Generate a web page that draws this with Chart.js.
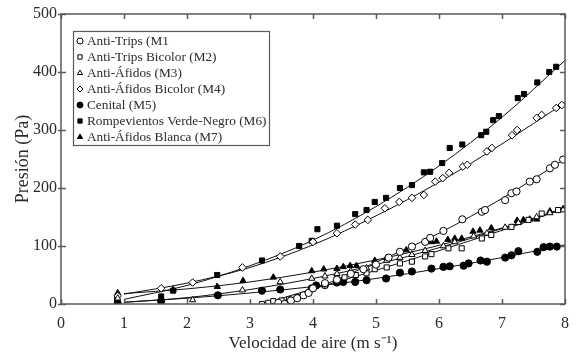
<!DOCTYPE html>
<html>
<head>
<meta charset="utf-8">
<script src="https://cdn.jsdelivr.net/npm/chart.js@4"></script>
<style>
  html, body { margin: 0; padding: 0; background: #fff; }
</style>
</head>
<body>
<canvas id="graficoPresion" width="584" height="354"></canvas>
<script>
// Presión vs velocidad de aire, mallas M1..M7
const xTicks = [0, 1, 2, 3, 4, 5, 6, 7, 8];
const yTicks = [0, 100, 200, 300, 400, 500];

const nombres = [
  'Anti-Trips (M1',
  'Anti-Trips Bicolor (M2)',
  'Anti-Áfidos (M3)',
  'Anti-Áfidos Bicolor (M4)',
  'Cenital (M5)',
  'Rompevientos Verde-Negro (M6)',
  'Anti-Áfidos Blanca (M7)',
];

// puntos medidos
const m1X = [3.45, 3.55, 3.65, 3.75, 3.85, 3.93, 4.0, 4.19, 4.38, 4.6, 4.8, 5.0, 5.2, 5.38, 5.57, 5.78, 5.86, 6.07, 6.37, 6.68, 6.73, 7.05, 7.15, 7.23, 7.44, 7.55, 7.76, 7.84, 7.97];
const m1Y = [2, 0, 6, 10, 15, 19, 27, 36, 42, 52, 60, 68, 80, 90, 99, 107, 114, 126, 146, 159, 162, 179, 191, 194, 211, 215, 234, 240, 249];

const m2X = [3.19, 3.29, 3.37, 3.5, 3.62, 3.75, 3.98, 4.19, 4.38, 4.5, 4.68, 4.85, 4.98, 5.17, 5.38, 5.57, 5.78, 5.88, 6.15, 6.36, 6.68, 6.83, 7.15, 7.42, 7.63, 7.89];
const m2Y = [0, 2, 5, 6, 8, 12, 27, 32, 42, 46, 50, 53, 60, 63, 70, 73, 82, 86, 96, 96, 113, 119, 133, 145, 156, 162];

const m3X = [0.9, 2.09, 2.88, 3.48, 3.98, 4.19, 4.38, 4.6, 4.85, 5.0, 5.17, 5.38, 5.57, 5.78, 6.07, 6.25, 6.55, 6.76, 7.05, 7.26, 7.55, 7.76, 7.97];
const m3Y = [10, 7, 24, 38, 44, 48, 52, 57, 62, 68, 75, 80, 85, 92, 100, 107, 117, 122, 132, 140, 150, 157, 162];

const m4X = [0.9, 1.59, 2.09, 2.88, 3.48, 4.0, 4.38, 4.67, 4.87, 5.14, 5.37, 5.57, 5.76, 5.94, 6.06, 6.16, 6.38, 6.45, 6.76, 6.84, 7.16, 7.24, 7.55, 7.63, 7.86, 7.95];
const m4Y = [14, 27, 37, 63, 82, 107, 122, 137, 145, 165, 176, 183, 188, 211, 217, 226, 237, 240, 263, 269, 291, 300, 321, 326, 338, 343];

const m5X = [0.9, 1.59, 2.49, 3.19, 3.48, 3.98, 4.05, 4.19, 4.38, 4.48, 4.67, 4.85, 5.16, 5.38, 5.57, 5.88, 6.07, 6.17, 6.39, 6.47, 6.66, 6.76, 7.05, 7.15, 7.26, 7.56, 7.66, 7.76, 7.87];
const m5Y = [1, 5, 15, 23, 25, 27, 32, 33, 37, 38, 38, 41, 44, 54, 56, 61, 64, 65, 66, 70, 75, 73, 80, 84, 91, 90, 98, 99, 99];

const m6X = [0.89, 1.59, 1.78, 2.48, 3.19, 3.78, 3.98, 4.07, 4.38, 4.67, 4.85, 4.98, 5.16, 5.38, 5.57, 5.76, 5.86, 6.05, 6.17, 6.37, 6.67, 6.75, 6.86, 6.95, 7.25, 7.35, 7.56, 7.75, 7.86];
const m6Y = [7, 13, 23, 50, 75, 100, 109, 129, 135, 155, 162, 176, 183, 200, 205, 227, 228, 243, 269, 275, 291, 297, 317, 324, 355, 362, 382, 400, 409];

const m7X = [0.9, 1.78, 2.48, 2.89, 3.37, 3.98, 4.17, 4.38, 4.48, 4.59, 4.69, 4.98, 5.17, 5.48, 5.88, 5.96, 6.14, 6.25, 6.36, 6.54, 6.65, 6.83, 7.24, 7.34, 7.44, 7.55, 7.76, 7.97];
const m7Y = [19, 25, 30, 40, 46, 57, 60, 61, 64, 66, 66, 75, 80, 93, 107, 108, 111, 113, 113, 125, 127, 131, 144, 145, 146, 146, 160, 164];

// curvas de ajuste
const ajusteX = [1, 2, 3, 4, 5, 6, 7, 8];
const ajusteM1X = [3.4, 4, 5, 6, 7, 8];
const ajusteM1Y = [0, 25, 72, 122, 182, 250];
const ajusteM2X = [3.2, 4, 5, 6, 7, 8];
const ajusteM2Y = [0, 26, 58, 92, 127, 165];
const ajusteM3Y = [3, 11, 25, 44, 68, 97, 130, 166];
const ajusteM4Y = [17, 36, 63, 102, 152, 210, 276, 347];
const ajusteM5Y = [3, 10, 19, 30, 44, 61, 80, 102];
const ajusteM6Y = [8, 32, 66, 110, 168, 238, 322, 420];
const ajusteM7Y = [18, 26, 38, 55, 76, 101, 131, 164];

const fuente = "'Liberation Serif', 'Times New Roman', serif";
const txtColor = '#2a2a2a';
const ejeColor = '#5a5a5a';

function pares(xs, ys) {
  return xs.map((x, i) => ({ x: x, y: ys[i] }));
}

function serie(label, xs, ys, estilo, relleno) {
  return {
    label: label,
    data: pares(xs, ys),
    showLine: false,
    pointStyle: estilo,
    pointRadius: estilo === 'rectRot' ? 3.8 : 3.6,
    pointBorderWidth: 1,
    pointBorderColor: '#000',
    pointBackgroundColor: relleno ? '#000' : '#fff',
    order: 1,
  };
}

function ajuste(xs, ys) {
  return {
    label: '_ajuste',
    data: pares(xs, ys),
    showLine: true,
    borderColor: '#111',
    borderWidth: 1,
    pointRadius: 0,
    fill: false,
    cubicInterpolationMode: 'monotone',
    order: 2,
  };
}

const series = [
  serie(nombres[0], m1X, m1Y, 'circle', false),
  serie(nombres[1], m2X, m2Y, 'rect', false),
  serie(nombres[2], m3X, m3Y, 'triangle', false),
  serie(nombres[3], m4X, m4Y, 'rectRot', false),
  serie(nombres[4], m5X, m5Y, 'circle', true),
  serie(nombres[5], m6X, m6Y, 'rect', true),
  serie(nombres[6], m7X, m7Y, 'triangle', true),
];

const lineas = [
  ajuste(ajusteM1X, ajusteM1Y),
  ajuste(ajusteM2X, ajusteM2Y),
  ajuste(ajusteX, ajusteM3Y),
  ajuste(ajusteX, ajusteM4Y),
  ajuste(ajusteX, ajusteM5Y),
  ajuste(ajusteX, ajusteM6Y),
  ajuste(ajusteX, ajusteM7Y),
];

// marco con marcas hacia adentro
const marco = {
  id: 'marco',
  afterDatasetsDraw(chart) {
    const { ctx, chartArea: a, scales } = chart;
    const t = 5;
    ctx.save();
    ctx.strokeStyle = ejeColor;
    ctx.lineWidth = 1.5;
    ctx.strokeRect(a.left, a.top, a.right - a.left, a.bottom - a.top);
    ctx.beginPath();
    xTicks.forEach(v => {
      const px = Math.round(scales.x.getPixelForValue(v)) + 0.5;
      ctx.moveTo(px, a.bottom); ctx.lineTo(px, a.bottom - t);
      ctx.moveTo(px, a.top); ctx.lineTo(px, a.top + t);
    });
    yTicks.forEach(v => {
      const py = Math.round(scales.y.getPixelForValue(v)) + 0.5;
      ctx.moveTo(a.left - 3, py); ctx.lineTo(a.left + t, py);
      ctx.moveTo(a.right, py); ctx.lineTo(a.right - t, py);
    });
    ctx.stroke();
    ctx.restore();
  }
};

// leyenda en recuadro
const leyenda = {
  id: 'leyenda',
  afterDraw(chart) {
    const { ctx } = chart;
    const x0 = 73, y0 = 31, w = 196, h = 114;
    ctx.save();
    ctx.fillStyle = '#fff';
    ctx.fillRect(x0, y0, w, h);
    ctx.strokeStyle = ejeColor;
    ctx.lineWidth = 1.2;
    ctx.strokeRect(x0 + 0.5, y0 + 0.5, w, h);
    ctx.font = '13.3px ' + fuente;
    ctx.textBaseline = 'middle';
    series.forEach((s, i) => {
      const yy = y0 + 10 + i * 16;
      ctx.strokeStyle = '#000';
      ctx.fillStyle = s.pointBackgroundColor;
      ctx.lineWidth = 1;
      Chart.helpers.drawPoint(ctx, {
        pointStyle: s.pointStyle, radius: 3, rotation: 0, borderWidth: 1
      }, x0 + 7, yy);
      ctx.fillStyle = txtColor;
      ctx.fillText(s.label, x0 + 14, yy + 1);
    });
    ctx.restore();
  }
};

const configPresion = {
  type: 'scatter',
  data: { datasets: series.concat(lineas) },
  options: {
    responsive: false,
    animation: false,
    devicePixelRatio: 1,
    layout: { padding: { top: 14, right: 19, left: 12, bottom: 0 } },
    plugins: {
      legend: { display: false },
      tooltip: { enabled: false },
    },
    scales: {
      x: {
        type: 'linear',
        min: 0, max: 8,
        afterBuildTicks: s => { s.ticks = xTicks.map(v => ({ value: v })); },
        ticks: { font: { family: fuente, size: 16 }, color: txtColor, padding: 10 },
        grid: { display: false, drawTicks: false, tickLength: 0 },
        border: { display: false },
        title: {
          display: true,
          text: 'Velocidad de aire (m s⁻¹)',
          font: { family: fuente, size: 17 },
          color: txtColor,
          padding: { top: 0, bottom: 0 },
        },
        afterFit: s => { s.height = 50; },
      },
      y: {
        type: 'linear',
        min: 0, max: 500,
        afterBuildTicks: s => { s.ticks = yTicks.map(v => ({ value: v })); },
        ticks: { font: { family: fuente, size: 16 }, color: txtColor, padding: 4 },
        grid: { display: false, drawTicks: false, tickLength: 0 },
        border: { display: false },
        title: {
          display: true,
          text: 'Presión (Pa)',
          font: { family: fuente, size: 18 },
          color: txtColor,
          padding: { top: 0, bottom: 0 },
        },
        afterFit: s => { s.width = 49; },
      },
    },
  },
  plugins: [marco, leyenda],
};

const graficoPresion = new Chart(
  document.getElementById('graficoPresion'),
  configPresion
);
</script>
</body>
</html>
